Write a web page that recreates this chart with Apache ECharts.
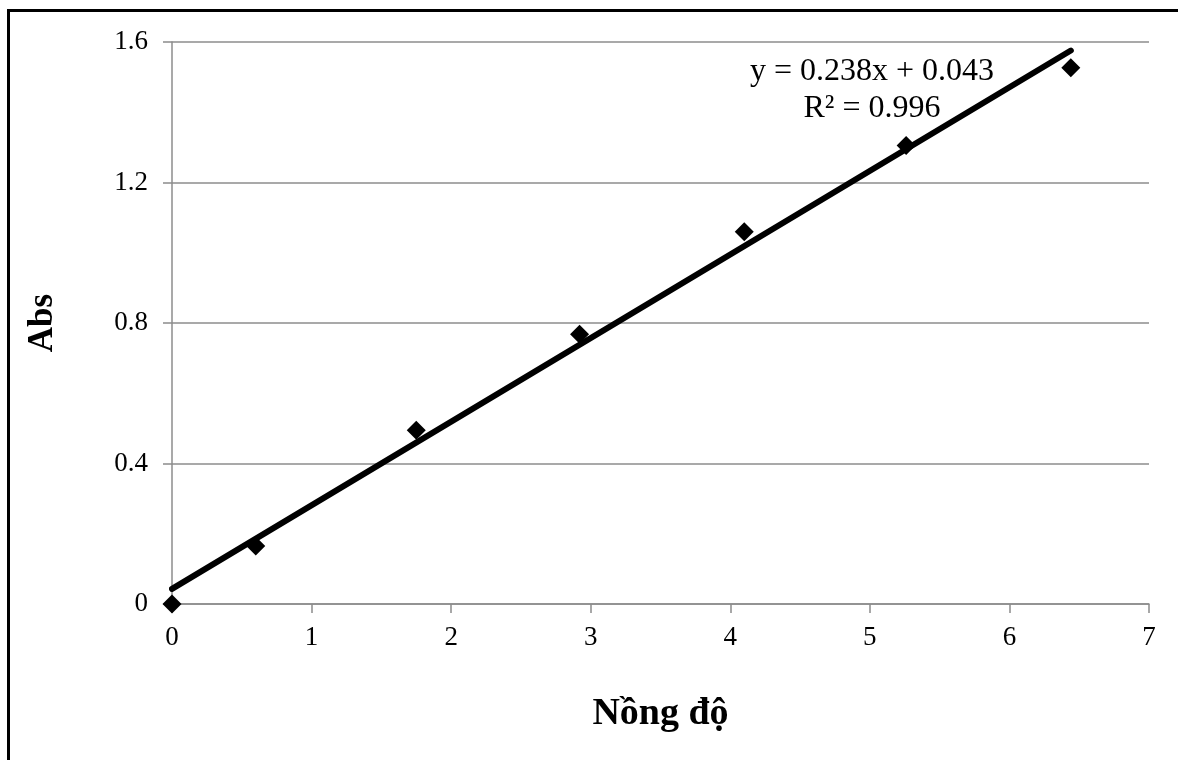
<!doctype html>
<html>
<head>
	<meta charset="utf-8">
	<script src="https://cdn.jsdelivr.net/npm/echarts@6/dist/echarts.min.js"></script>
	<style>
		html, body { margin: 0; padding: 0; background: #fff; }
		#chart { width: 1178px; height: 760px; }
	</style>
</head>
<body>
	<div id="chart"></div>
	<script>
		// số liệu
		var nongDo = [0, 0.6, 1.75, 2.92, 4.1, 5.26, 6.44];
		var abs = [0, 0.165, 0.495, 0.768, 1.06, 1.305, 1.527];
		var slope = 0.238;
		var intercept = 0.043;
		var eqText = ['y = 0.238x + 0.043', 'R² = 0.996'];

		var points = nongDo.map(function(x, i) { return [x, abs[i]]; });
		var xEnd = nongDo[nongDo.length - 1];
		var trend = [[0, intercept], [xEnd, slope * xEnd + intercept]];

		var font = '"Liberation Serif", "Times New Roman", serif';
		var myChart = echarts.init(document.getElementById('chart'));
		var option = {
			animation: false,
			backgroundColor: '#fff',
			grid: { left: 172, top: 42, right: 29, bottom: 156 },
			xAxis: {
				type: 'value',
				min: 0, max: 7, interval: 1,
				name: 'Nồng độ',
				nameLocation: 'middle',
				nameGap: 91,
				nameTextStyle: { fontFamily: font, fontSize: 38, fontWeight: 'bold', color: '#000' },
				axisLine: { lineStyle: { color: '#8c8c8c', width: 1.5 } },
				axisTick: { show: true, length: 9, lineStyle: { color: '#8c8c8c', width: 1.5 } },
				axisLabel: { fontFamily: font, fontSize: 27, color: '#000', margin: 20 },
				splitLine: { show: false }
			},
			yAxis: {
				type: 'value',
				min: 0, max: 1.6, interval: 0.4,
				name: 'Abs',
				nameLocation: 'middle',
				nameGap: 112,
				nameRotate: 90,
				nameTextStyle: { fontFamily: font, fontSize: 35, fontWeight: 'bold', color: '#000' },
				axisLine: { show: true, lineStyle: { color: '#8c8c8c', width: 1.5 } },
				axisTick: { show: true, length: 9, lineStyle: { color: '#8c8c8c', width: 1.5 } },
				axisLabel: { fontFamily: font, fontSize: 27, color: '#000', margin: 24 },
				splitLine: { show: true, lineStyle: { color: '#8c8c8c', width: 1.5 } }
			},
			series: [
				{
					type: 'line',
					data: trend,
					showSymbol: false,
					symbol: 'none',
					lineStyle: { color: '#000', width: 6, cap: 'round' },
					z: 2
				},
				{
					type: 'scatter',
					data: points,
					symbol: 'diamond',
					symbolSize: 19,
					itemStyle: { color: '#000', opacity: 1 },
					z: 3
				}
			],
			graphic: [
				{
					type: 'rect',
					shape: { x: 8.5, y: 10.5, width: 1200, height: 800 },
					style: { fill: 'none', stroke: '#000', lineWidth: 3 }
				},
				{
					type: 'text',
					x: 872, y: 72,
					style: { text: eqText[0], font: '32px ' + font, fill: '#000', align: 'center', verticalAlign: 'middle' }
				},
				{
					type: 'text',
					x: 872, y: 109,
					style: { text: eqText[1], font: '32px ' + font, fill: '#000', align: 'center', verticalAlign: 'middle' }
				}
			]
		};
		myChart.setOption(option);
	</script>
</body>
</html>
